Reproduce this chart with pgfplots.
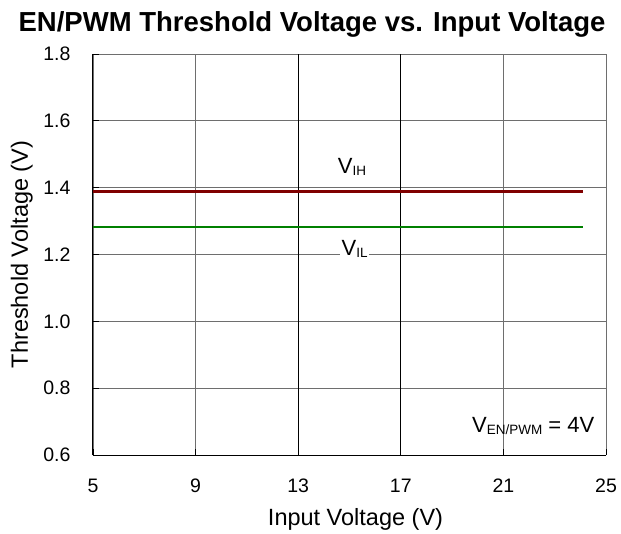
\documentclass[border=0pt]{standalone}
\usepackage{pgfplots}
\pgfplotsset{compat=1.18}
\usepackage{fontspec}
\setmainfont{Liberation Sans}
\definecolor{vihred}{RGB}{128,0,0}
\definecolor{vilgreen}{RGB}{0,128,0}
\definecolor{gridgray}{RGB}{110,110,110}
\newcommand{\sub}[1]{\raisebox{-1.2pt}{\fontsize{13.5}{13.5}\selectfont #1}}
\begin{document}
\begin{tikzpicture}
\useasboundingbox (-93pt,-78pt) rectangle (528pt,455pt);
\begin{axis}[
  at={(0,0)}, anchor=south west,
  scale only axis, width=513pt, height=401pt,
  xmin=5, xmax=25, ymin=0.6, ymax=1.8,
  axis lines=left,
  axis line style={-, black, line width=1pt},
  xtick={5,9,21,25},
  extra x ticks={13,17},
  extra x tick style={major grid style={black, line width=0.9pt}},
  ytick={0.6,0.8,1.0,1.2,1.4,1.6,1.8},
  yticklabel style={/pgf/number format/fixed, /pgf/number format/fixed zerofill, /pgf/number format/precision=1},
  /pgf/number format/assume math mode=true,
  ticklabel style={font=\fontsize{19.5}{19.5}\selectfont},
  grid=major,
  major grid style={gridgray, line width=0.8pt},
  tick style={black, line width=0.8pt},
  tick align=inside,
  major tick length=6pt,
  xtick pos=bottom, ytick pos=left,
  xlabel={Input Voltage (V)},
  ylabel={Threshold Voltage (V)},
  label style={font=\fontsize{23.5}{23.5}\selectfont},
  xlabel style={at={([xshift=6pt,yshift=-70pt]axis description cs:0.5,0)}, anchor=base},
  ylabel style={at={([xshift=-65pt]axis description cs:0,0.5)}, anchor=base, rotate=0},
  xticklabel style={anchor=base, yshift=-37pt},
  yticklabel style={anchor=east, xshift=-19pt},
  clip=false,
]
\addplot[vihred, line width=3pt, mark=none] coordinates {(5,1.390) (9,1.390) (13,1.390) (17,1.390) (21,1.390) (24.1,1.390)};
\addplot[vilgreen, line width=2pt, mark=none] coordinates {(5,1.281) (9,1.281) (13,1.281) (17,1.281) (21,1.281) (24.1,1.281)};
\node[font=\fontsize{22}{22}\selectfont, anchor=base] at (axis cs:15.1,1.441) {V\sub{IH}};
\node[font=\fontsize{22}{22}\selectfont, fill=white, inner sep=1.5pt, anchor=base] at (axis cs:15.2,1.196) {V\sub{IL}};
\node[font=\fontsize{22}{22}\selectfont, anchor=base east, inner sep=0pt] at (axis cs:24.55,0.666) {V\sub{EN/PWM} = 4V};
\end{axis}
\node[font=\fontsize{27.5}{27.5}\selectfont\bfseries, anchor=base] at (219pt,423pt) {EN/PWM Threshold Voltage vs. Input Voltage};
\end{tikzpicture}
\end{document}
